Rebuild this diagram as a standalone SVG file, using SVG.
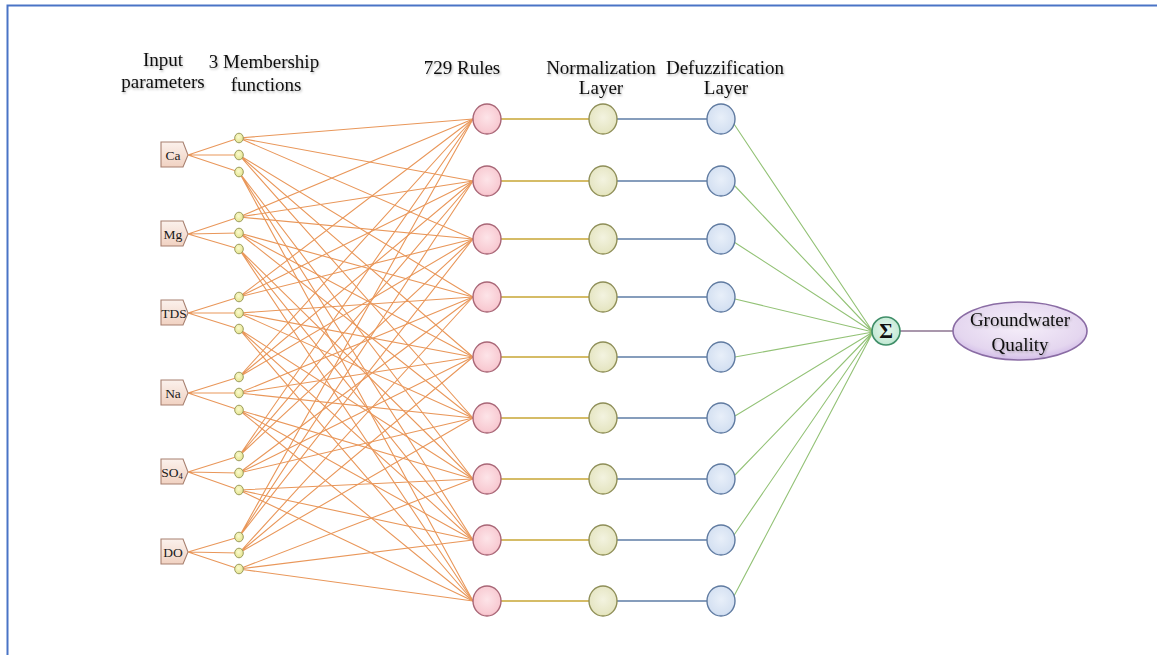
<svg xmlns="http://www.w3.org/2000/svg" width="1157" height="655" viewBox="0 0 1157 655">
<defs>
<style>
.t{font-family:"Liberation Serif","Times New Roman",serif;font-size:19px;fill:#111;text-anchor:middle;filter:url(#ts)}
.lab{font-family:"Liberation Serif","Times New Roman",serif;font-size:13.5px;fill:#1a1a1a;text-anchor:middle}
.o{stroke:#e9975a;stroke-width:1.1;fill:none}
.ry{stroke:#c8a636;stroke-width:1.3}
.nb{stroke:#5f7ea6;stroke-width:1.3}
.dg{stroke:#93c276;stroke-width:1.1}
.inp{fill:url(#gIn);stroke:#a88070;stroke-width:1.1}
.mf{fill:url(#gMf);stroke:#9c9c5e;stroke-width:1}
.rule{fill:url(#gRule);stroke:#a86676;stroke-width:1.4}
.norm{fill:url(#gNorm);stroke:#8e8e58;stroke-width:1.4}
.def{fill:url(#gDef);stroke:#5f7aa0;stroke-width:1.4}
</style>
<filter id="ts" x="-10%" y="-30%" width="130%" height="170%">
<feDropShadow dx="1" dy="1.5" stdDeviation="0.8" flood-color="#000" flood-opacity="0.28"/>
</filter>
<linearGradient id="gIn" x1="0" y1="0" x2="0" y2="1">
<stop offset="0" stop-color="#fbf1ec"/><stop offset="1" stop-color="#f1d2c2"/>
</linearGradient>
<radialGradient id="gMf" cx="0.45" cy="0.4" r="0.65">
<stop offset="0" stop-color="#fbfbd0"/><stop offset="1" stop-color="#e2e288"/>
</radialGradient>
<radialGradient id="gRule" cx="0.5" cy="0.45" r="0.6">
<stop offset="0" stop-color="#fde4e8"/><stop offset="0.8" stop-color="#f8cad2"/><stop offset="1" stop-color="#eca2b2"/>
</radialGradient>
<radialGradient id="gNorm" cx="0.5" cy="0.45" r="0.6">
<stop offset="0" stop-color="#f3f3e0"/><stop offset="0.8" stop-color="#e6e6c4"/><stop offset="1" stop-color="#e2e296"/>
</radialGradient>
<radialGradient id="gDef" cx="0.5" cy="0.45" r="0.6">
<stop offset="0" stop-color="#e8eff9"/><stop offset="0.8" stop-color="#d5e1f2"/><stop offset="1" stop-color="#b4ccee"/>
</radialGradient>
<radialGradient id="gSig" cx="0.5" cy="0.45" r="0.6">
<stop offset="0" stop-color="#e8f8f0"/><stop offset="0.8" stop-color="#c6ead6"/><stop offset="1" stop-color="#98d8b8"/>
</radialGradient>
<radialGradient id="gOut" cx="0.5" cy="0.4" r="0.6">
<stop offset="0" stop-color="#f6effa"/><stop offset="0.8" stop-color="#e4d6ef"/><stop offset="1" stop-color="#d2bce8"/>
</radialGradient>
</defs>
<rect x="0" y="0" width="1157" height="655" fill="#fff"/>
<rect x="7.5" y="5.5" width="1170" height="670" fill="none" stroke="#4a74c6" stroke-width="2"/>

<g id="titles">
<text class="t" x="163" y="66">Input</text>
<text class="t" x="163" y="88">parameters</text>
<text class="t" x="264" y="68">3 Membership</text>
<text class="t" x="266" y="91">functions</text>
<text class="t" x="462" y="74">729 Rules</text>
<text class="t" x="601" y="74">Normalization</text>
<text class="t" x="601" y="94">Layer</text>
<text class="t" x="725" y="74">Defuzzification</text>
<text class="t" x="726" y="94">Layer</text>
</g>

<g id="connectors">
<g class="o">
<path d="M188 155L239 138M188 155L239 155M188 155L239 172"/>
<path d="M188 234L239 217M188 234L239 233M188 234L239 249"/>
<path d="M188 313L239 297M188 313L239 313M188 313L239 329"/>
<path d="M188 393L239 377M188 393L239 393M188 393L239 410"/>
<path d="M188 472L239 456M188 472L239 473M188 472L239 490"/>
<path d="M188 552L239 537M188 552L239 553M188 552L239 569"/>
</g>
<g class="o">
<path d="M239 138L473 119M239 138L473 181M239 138L473 239M239 155L473 297M239 155L473 357M239 155L473 418M239 172L473 479M239 172L473 540M239 172L473 601"/>
<path d="M239 217L473 119M239 217L473 181M239 217L473 239M239 233L473 297M239 233L473 357M239 233L473 418M239 249L473 479M239 249L473 540M239 249L473 601"/>
<path d="M239 297L473 119M239 297L473 181M239 297L473 239M239 313L473 297M239 313L473 357M239 313L473 418M239 329L473 479M239 329L473 540M239 329L473 601"/>
<path d="M239 377L473 119M239 377L473 181M239 377L473 239M239 393L473 297M239 393L473 357M239 393L473 418M239 410L473 479M239 410L473 540M239 410L473 601"/>
<path d="M239 456L473 119M239 456L473 181M239 456L473 239M239 473L473 297M239 473L473 357M239 473L473 418M239 490L473 479M239 490L473 540M239 490L473 601"/>
<path d="M239 537L473 119M239 537L473 181M239 537L473 239M239 553L473 297M239 553L473 357M239 553L473 418M239 569L473 479M239 569L473 540M239 569L473 601"/>
</g>
<path class="ry" d="M501 119H589M501 181H589M501 239H589M501 297H589M501 357H589M501 418H589M501 479H589M501 540H589M501 601H589"/>
<path class="nb" d="M617 119H707M617 181H707M617 239H707M617 297H707M617 357H707M617 418H707M617 479H707M617 540H707M617 601H707"/>
<path class="dg" d="M734 124L873 332M734 185L873 332M734 242L873 332M735 299L873 332M735 357L873 332M735 416L873 332M735 475L873 332M734 535L873 332M734 596L873 332"/>
<path d="M900 331H953" stroke="#8c7590" stroke-width="1.3"/>
</g>

<g id="in-Ca"><path class="inp" d="M161 142H183L188 155L183 167H161Z"/><text class="lab" x="173" y="159.5">Ca</text></g>
<g id="in-Mg"><path class="inp" d="M161 221H183L188 234L183 246H161Z"/><text class="lab" x="173" y="238.5">Mg</text></g>
<g id="in-TDS"><path class="inp" d="M161 300H183L188 313L183 325H161Z"/><text class="lab" x="174" y="317.5" font-size="12.5">TDS</text></g>
<g id="in-Na"><path class="inp" d="M161 380H183L188 393L183 405H161Z"/><text class="lab" x="173" y="397.5">Na</text></g>
<g id="in-SO4"><path class="inp" d="M161 459H183L188 472L183 484H161Z"/><text class="lab" x="172" y="476.5">SO<tspan font-size="8.5" dy="2">4</tspan></text></g>
<g id="in-DO"><path class="inp" d="M161 539H183L188 552L183 564H161Z"/><text class="lab" x="173" y="556.5">DO</text></g>

<g id="membership">
<ellipse class="mf" cx="239" cy="138" rx="4.3" ry="4.8"/><ellipse class="mf" cx="239" cy="155" rx="4.3" ry="4.8"/><ellipse class="mf" cx="239" cy="172" rx="4.3" ry="4.8"/>
<ellipse class="mf" cx="239" cy="217" rx="4.3" ry="4.8"/><ellipse class="mf" cx="239" cy="233" rx="4.3" ry="4.8"/><ellipse class="mf" cx="239" cy="249" rx="4.3" ry="4.8"/>
<ellipse class="mf" cx="239" cy="297" rx="4.3" ry="4.8"/><ellipse class="mf" cx="239" cy="313" rx="4.3" ry="4.8"/><ellipse class="mf" cx="239" cy="329" rx="4.3" ry="4.8"/>
<ellipse class="mf" cx="239" cy="377" rx="4.3" ry="4.8"/><ellipse class="mf" cx="239" cy="393" rx="4.3" ry="4.8"/><ellipse class="mf" cx="239" cy="410" rx="4.3" ry="4.8"/>
<ellipse class="mf" cx="239" cy="456" rx="4.3" ry="4.8"/><ellipse class="mf" cx="239" cy="473" rx="4.3" ry="4.8"/><ellipse class="mf" cx="239" cy="490" rx="4.3" ry="4.8"/>
<ellipse class="mf" cx="239" cy="537" rx="4.3" ry="4.8"/><ellipse class="mf" cx="239" cy="553" rx="4.3" ry="4.8"/><ellipse class="mf" cx="239" cy="569" rx="4.3" ry="4.8"/>
</g>

<g id="rules">
<ellipse class="rule" cx="487" cy="119" rx="14" ry="15"/><ellipse class="rule" cx="487" cy="181" rx="14" ry="15"/><ellipse class="rule" cx="487" cy="239" rx="14" ry="15"/>
<ellipse class="rule" cx="487" cy="297" rx="14" ry="15"/><ellipse class="rule" cx="487" cy="357" rx="14" ry="15"/><ellipse class="rule" cx="487" cy="418" rx="14" ry="15"/>
<ellipse class="rule" cx="487" cy="479" rx="14" ry="15"/><ellipse class="rule" cx="487" cy="540" rx="14" ry="15"/><ellipse class="rule" cx="487" cy="601" rx="14" ry="15"/>
</g>

<g id="normalization">
<ellipse class="norm" cx="603" cy="119" rx="14" ry="15"/><ellipse class="norm" cx="603" cy="181" rx="14" ry="15"/><ellipse class="norm" cx="603" cy="239" rx="14" ry="15"/>
<ellipse class="norm" cx="603" cy="297" rx="14" ry="15"/><ellipse class="norm" cx="603" cy="357" rx="14" ry="15"/><ellipse class="norm" cx="603" cy="418" rx="14" ry="15"/>
<ellipse class="norm" cx="603" cy="479" rx="14" ry="15"/><ellipse class="norm" cx="603" cy="540" rx="14" ry="15"/><ellipse class="norm" cx="603" cy="601" rx="14" ry="15"/>
</g>

<g id="defuzzification">
<ellipse class="def" cx="721" cy="119" rx="14" ry="15"/><ellipse class="def" cx="721" cy="181" rx="14" ry="15"/><ellipse class="def" cx="721" cy="239" rx="14" ry="15"/>
<ellipse class="def" cx="721" cy="297" rx="14" ry="15"/><ellipse class="def" cx="721" cy="357" rx="14" ry="15"/><ellipse class="def" cx="721" cy="418" rx="14" ry="15"/>
<ellipse class="def" cx="721" cy="479" rx="14" ry="15"/><ellipse class="def" cx="721" cy="540" rx="14" ry="15"/><ellipse class="def" cx="721" cy="601" rx="14" ry="15"/>
</g>

<g id="sum">
<ellipse cx="886" cy="331" rx="14" ry="14" fill="url(#gSig)" stroke="#3f8e68" stroke-width="1.6"/>
<text x="886" y="338" font-family="Liberation Serif, serif" font-size="21" font-weight="bold" text-anchor="middle" fill="#111">Σ</text>
</g>

<g id="output">
<ellipse cx="1020" cy="331" rx="67" ry="29" fill="url(#gOut)" stroke="#8a6ca4" stroke-width="1.6"/>
<text class="t" x="1020" y="326" font-size="18.5">Groundwater</text>
<text class="t" x="1020" y="351" font-size="18.5">Quality</text>
</g>
</svg>
